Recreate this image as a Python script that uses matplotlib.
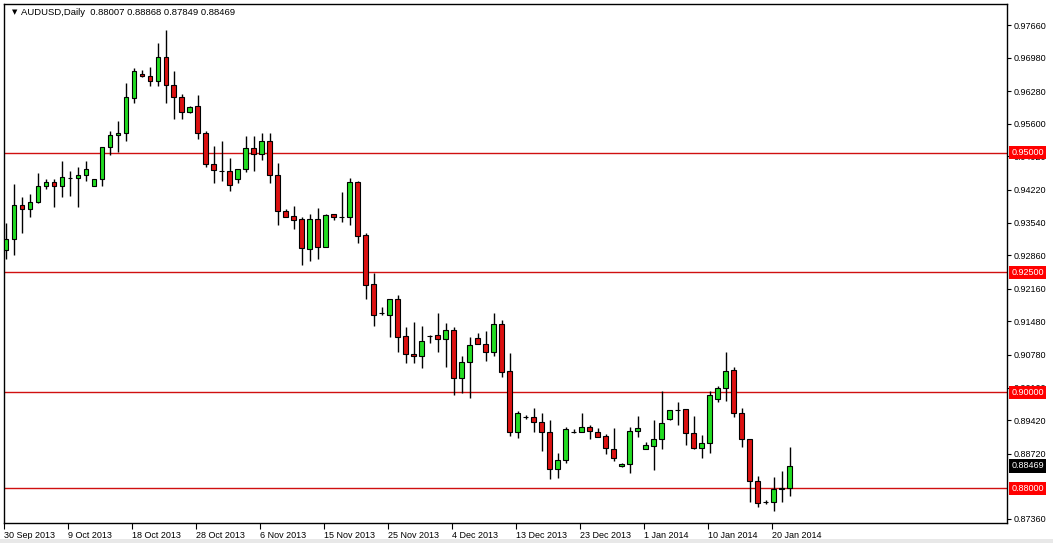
import matplotlib.pyplot as plt
from matplotlib.transforms import blended_transform_factory
from matplotlib.patches import Rectangle

plt.rcParams['font.family'] = ['Liberation Sans', 'DejaVu Sans']

# AUDUSD daily bars (open, high, low, close)
opens = [0.92969, 0.93198, 0.93907, 0.93823, 0.93969, 0.94303, 0.94386, 0.94303, 0.94465, 0.94470,
         0.94532, 0.94303, 0.94449, 0.95116, 0.95366, 0.95408, 0.96138, 0.96638, 0.96596, 0.96492,
         0.96993, 0.96409, 0.96159, 0.95846, 0.95971, 0.95408, 0.94762, 0.94616, 0.94616, 0.94449,
         0.94657, 0.95095, 0.94970, 0.95241, 0.94532, 0.93782, 0.93677, 0.93615, 0.92989, 0.93615,
         0.93031, 0.93719, 0.93660, 0.93657, 0.94386, 0.93281, 0.92260, 0.91655, 0.91613, 0.91947,
         0.91175, 0.90800, 0.90758, 0.91175, 0.91196, 0.91113, 0.91301, 0.90300, 0.90633, 0.91134,
         0.91009, 0.90842, 0.91426, 0.90446, 0.89174, 0.89487, 0.89487, 0.89382, 0.89174, 0.88402,
         0.88590, 0.89174, 0.89174, 0.89278, 0.89174, 0.89090, 0.88819, 0.88465, 0.88507, 0.89195,
         0.88819, 0.88882, 0.89028, 0.89445, 0.89633, 0.89653, 0.89153, 0.88840, 0.88944, 0.89862,
         0.90091, 0.90467, 0.89570, 0.89028, 0.88152, 0.87714, 0.87714, 0.87995, 0.88007]
highs = [0.93531, 0.94345, 0.94074, 0.94136, 0.94574, 0.94449, 0.94449, 0.94824, 0.94616, 0.94699,
         0.94824, 0.94449, 0.95116, 0.95450, 0.95658, 0.96450, 0.96763, 0.96722, 0.96784, 0.97284,
         0.97556, 0.96701, 0.96221, 0.95971, 0.96200, 0.95450, 0.95137, 0.95241, 0.94887, 0.94657,
         0.95345, 0.95345, 0.95408, 0.95408, 0.94782, 0.93823, 0.93886, 0.93657, 0.93719, 0.93844,
         0.93719, 0.93719, 0.94178, 0.94470, 0.94400, 0.93323, 0.92489, 0.91780, 0.91947, 0.92030,
         0.91363, 0.91467, 0.91384, 0.91196, 0.91655, 0.91446, 0.91363, 0.90758, 0.91155, 0.91238,
         0.91280, 0.91655, 0.91509, 0.90821, 0.89612, 0.89528, 0.89674, 0.89570, 0.89424, 0.88736,
         0.89278, 0.89236, 0.89570, 0.89320, 0.89257, 0.89132, 0.89257, 0.88527, 0.89278, 0.89507,
         0.88965, 0.89424, 0.90029, 0.89633, 0.89799, 0.89653, 0.89507, 0.89111, 0.90029, 0.90133,
         0.90842, 0.90529, 0.89674, 0.89028, 0.88256, 0.87756, 0.88236, 0.88361, 0.88868]
lows = [0.92781, 0.92864, 0.93323, 0.93657, 0.93950, 0.94240, 0.93865, 0.94074, 0.94094, 0.93865,
        0.94407, 0.94303, 0.94303, 0.94949, 0.95012, 0.95241, 0.96033, 0.96576, 0.96388, 0.96388,
        0.96033, 0.95700, 0.95700, 0.95825, 0.95283, 0.94699, 0.94365, 0.94407, 0.94199, 0.94365,
        0.94595, 0.94616, 0.94845, 0.94365, 0.93490, 0.93657, 0.93406, 0.92656, 0.92739, 0.92781,
        0.93031, 0.93594, 0.93552, 0.93490, 0.93114, 0.91947, 0.91384, 0.91613, 0.91155, 0.90842,
        0.90612, 0.90612, 0.90508, 0.91029, 0.90842, 0.90529, 0.89945, 0.89987, 0.89883, 0.91009,
        0.90654, 0.90758, 0.90321, 0.89090, 0.89049, 0.89445, 0.89174, 0.88778, 0.88194, 0.88215,
        0.88527, 0.89153, 0.89174, 0.89028, 0.89070, 0.88715, 0.88569, 0.88444, 0.88319, 0.89070,
        0.88819, 0.88382, 0.88819, 0.89424, 0.89320, 0.88903, 0.88819, 0.88632, 0.88736, 0.89799,
        0.89820, 0.89487, 0.88861, 0.87714, 0.87610, 0.87673, 0.87527, 0.87714, 0.87849]
closes = [0.93198, 0.93907, 0.93823, 0.93969, 0.94303, 0.94386, 0.94303, 0.94491, 0.94475, 0.94532,
          0.94657, 0.94449, 0.95116, 0.95366, 0.95408, 0.96159, 0.96701, 0.96596, 0.96492, 0.96993,
          0.96409, 0.96159, 0.95846, 0.95950, 0.95408, 0.94762, 0.94637, 0.94610, 0.94324, 0.94657,
          0.95095, 0.94970, 0.95241, 0.94532, 0.93782, 0.93657, 0.93594, 0.93010, 0.93615, 0.93031,
          0.93698, 0.93657, 0.93655, 0.94386, 0.93260, 0.92239, 0.91613, 0.91650, 0.91947, 0.91155,
          0.90800, 0.90758, 0.91071, 0.91170, 0.91113, 0.91301, 0.90300, 0.90633, 0.90988, 0.91009,
          0.90842, 0.91426, 0.90425, 0.89174, 0.89570, 0.89480, 0.89382, 0.89174, 0.88402, 0.88590,
          0.89236, 0.89170, 0.89278, 0.89195, 0.89070, 0.88840, 0.88632, 0.88507, 0.89195, 0.89257,
          0.88903, 0.89028, 0.89361, 0.89633, 0.89630, 0.89153, 0.88840, 0.88944, 0.89945, 0.90091,
          0.90446, 0.89570, 0.89028, 0.88152, 0.87693, 0.87720, 0.87985, 0.88005, 0.88469]

date_labels = ['30 Sep 2013', '9 Oct 2013', '18 Oct 2013', '28 Oct 2013', '6 Nov 2013',
               '15 Nov 2013', '25 Nov 2013', '4 Dec 2013', '13 Dec 2013', '23 Dec 2013',
               '1 Jan 2014', '10 Jan 2014', '20 Jan 2014']
price_ticks = [0.9766, 0.9698, 0.9628, 0.9560, 0.9492, 0.9422, 0.9354, 0.9286,
               0.9216, 0.9148, 0.9078, 0.9010, 0.8942, 0.8872, 0.8736]
levels = [0.95, 0.925, 0.90, 0.88]

GREEN = '#22dd22'
RED = '#dd1111'

fig = plt.figure(figsize=(10.53, 5.43), dpi=100)
ax = fig.add_axes([4 / 1053, 20 / 543, 1003 / 1053, 519 / 543])

n = len(opens)
xs = list(range(n))
bottoms = [min(o, c) for o, c in zip(opens, closes)]
heights = [max(abs(c - o), 0.00003) for o, c in zip(opens, closes)]
colors = [GREEN if c >= o else RED for o, c in zip(opens, closes)]

ax.vlines(xs, lows, highs, color='black', linewidth=1, zorder=2)
ax.bar(xs, heights, bottom=bottoms, width=0.6, color=colors,
       edgecolor='black', linewidth=0.8, zorder=3)

for lv in levels:
    ax.axhline(lv, color='#d01010', linewidth=1, zorder=1)

ax.set_xlim(-0.2, 125.2)
ax.set_ylim(0.87276, 0.98098)

ax.yaxis.tick_right()
ax.set_yticks(price_ticks)
ax.set_yticklabels([f'{v:.5f}' for v in price_ticks])
ax.tick_params(axis='y', direction='out', length=3, width=0.8, pad=2, labelsize=6.5)

ax.set_xticks([8 * i - 0.25 for i in range(len(date_labels))])
ax.set_xticklabels(date_labels, ha='left')
ax.tick_params(axis='x', direction='out', length=4, width=0.8, pad=2, labelsize=6.5)

for sp in ax.spines.values():
    sp.set_color('black')
    sp.set_linewidth(1)

trans = blended_transform_factory(ax.transAxes, ax.transData)
for lv in levels:
    ax.text(1.0045, lv, f'{lv:.5f}', transform=trans, ha='left', va='center',
            fontsize=6.5, color='white', zorder=10, clip_on=False,
            bbox=dict(boxstyle='square,pad=0.25', fc='#ff0000', ec='none'))
ax.text(1.0045, closes[-1], f'{closes[-1]:.5f}', transform=trans, ha='left', va='center',
        fontsize=6.5, color='white', zorder=10, clip_on=False,
        bbox=dict(boxstyle='square,pad=0.25', fc='black', ec='none'))

ax.text(0.0075, 0.984, '\u25bc', transform=ax.transAxes, fontsize=5, va='center', ha='left',
        family=['DejaVu Sans'])
ax.text(0.0165, 0.984,
        f'AUDUSD,Daily  {opens[-1]:.5f} {highs[-1]:.5f} {lows[-1]:.5f} {closes[-1]:.5f}',
        transform=ax.transAxes, fontsize=6.8, va='center', ha='left')

fig.patches.append(Rectangle((0, 0), 1, 4 / 543, transform=fig.transFigure,
                             fc='#e8e8e8', ec='none'))

fig.savefig('out.png', dpi=100)
